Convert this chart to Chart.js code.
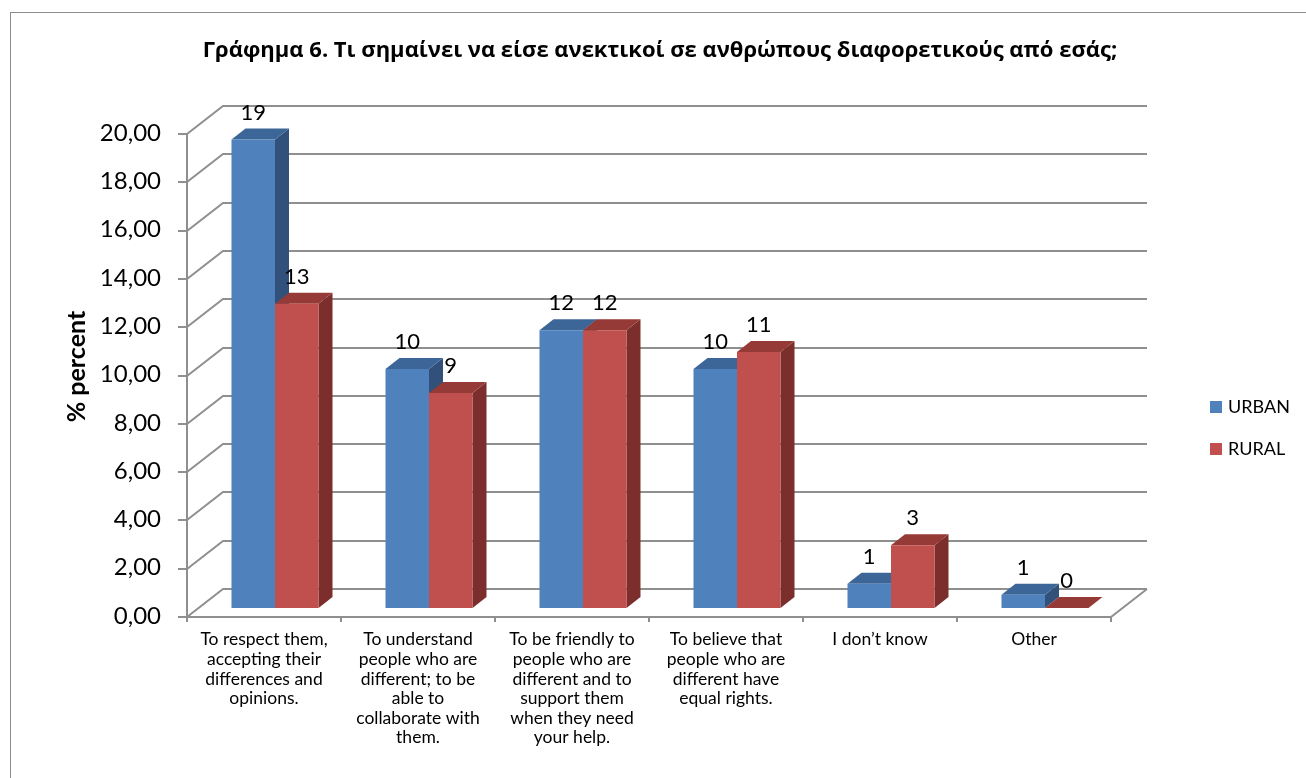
<!DOCTYPE html>
<html lang="el">
<head>
    <meta charset="UTF-8">
    <title>Γράφημα 6</title>
    <style>
        body {
            margin: 0;
            background: #fff;
            overflow: hidden;
        }

        /* grey frame around the chart, like the Excel chart area */
        .frame {
            position: absolute;
            left: 10px;
            top: 12px;
            width: 1400px;
            height: 900px;
            border: 1px solid #8c8c8c;
        }

        #wrap {
            position: absolute;
            left: 0;
            top: 0;
            width: 1306px;
            height: 778px;
        }
    </style>
    <script src="https://cdn.jsdelivr.net/npm/chart.js"></script>
</head>
<body>
    <div class="frame"></div>
    <div id="wrap"><canvas id="toleranceChart"></canvas></div>

    <script>
        const categories = [
            ["To respect them,", "accepting their", "differences and", "opinions."],
            ["To understand", "people who are", "different; to be", "able to", "collaborate with", "them."],
            ["To be friendly to", "people who are", "different and to", "support them", "when they need", "your help."],
            ["To believe that", "people who are", "different have", "equal rights."],
            "I don’t know",
            "Other"
        ];
        const urban = [19.4, 9.9, 11.5, 9.9, 1.0, 0.55];
        const rural = [12.6, 8.9, 11.5, 10.6, 2.6, 0];
        const yMin = 0;
        const yMax = 20;
        const yStep = 2;

        const FONT = "Lato, 'Open Sans', sans-serif";
        const TITLE_FONT = "'Open Sans', Lato, sans-serif";

        // fake 3D: offsets from the bar plane (the one Chart.js draws in)
        const FRONT = { x: -11, y: 9 };   // front edge of floor / axis
        const BACK = { x: 25, y: -19 };   // back wall
        const DEPTH = { x: 14, y: -11 };  // depth of one bar
        const GRID = '#8f8f8f';

        const faceColors = [
            { top: '#3d6698', side: '#31507a' },
            { top: '#963a37', side: '#7b2e2c' }
        ];

        const fmt = v => v.toFixed(2).replace('.', ',');

        const threeD = {
            id: 'threeD',
            beforeDatasetsDraw(chart) {
                const { ctx, chartArea: a, scales: { x, y } } = chart;
                const y0 = Math.round(y.getPixelForValue(yMin));
                const yTop = Math.round(y.getPixelForValue(yMax));
                ctx.save();
                ctx.strokeStyle = GRID;
                ctx.lineWidth = 2;

                // left wall diagonals + back wall gridlines + tick marks
                y.ticks.forEach(t => {
                    const py = Math.round(y.getPixelForValue(t.value));
                    ctx.beginPath();
                    ctx.moveTo(a.left + FRONT.x, py + FRONT.y);
                    ctx.lineTo(a.left + BACK.x, py + BACK.y);
                    ctx.lineTo(a.right + BACK.x, py + BACK.y);
                    ctx.stroke();
                    ctx.beginPath();
                    ctx.moveTo(a.left + FRONT.x - 9, py + FRONT.y);
                    ctx.lineTo(a.left + FRONT.x, py + FRONT.y);
                    ctx.stroke();
                });

                // front vertical axis
                ctx.beginPath();
                ctx.moveTo(a.left + FRONT.x, y0 + FRONT.y);
                ctx.lineTo(a.left + FRONT.x, yTop + FRONT.y);
                ctx.stroke();

                // floor front and right edge
                ctx.beginPath();
                ctx.moveTo(a.left + FRONT.x, y0 + FRONT.y);
                ctx.lineTo(a.right + FRONT.x, y0 + FRONT.y);
                ctx.lineTo(a.right + BACK.x, y0 + BACK.y);
                ctx.stroke();

                // category separators on the floor edge
                const n = categories.length;
                for (let k = 0; k <= n; k++) {
                    const px = Math.round(a.left + k * a.width / n + FRONT.x);
                    ctx.beginPath();
                    ctx.moveTo(px, y0 + FRONT.y);
                    ctx.lineTo(px, y0 + FRONT.y + 5);
                    ctx.stroke();
                }

                // side and top faces of the bars (fronts are drawn by Chart.js after this)
                chart.data.datasets.forEach((ds, d) => {
                    const meta = chart.getDatasetMeta(d);
                    meta.data.forEach(bar => {
                        const l = bar.x - bar.width / 2;
                        const r = bar.x + bar.width / 2;
                        const t = bar.y;
                        const b = bar.base;

                        ctx.fillStyle = faceColors[d].side;
                        ctx.beginPath();
                        ctx.moveTo(r, t);
                        ctx.lineTo(r + DEPTH.x, t + DEPTH.y);
                        ctx.lineTo(r + DEPTH.x, b + DEPTH.y);
                        ctx.lineTo(r, b);
                        ctx.closePath();
                        ctx.fill();

                        ctx.fillStyle = faceColors[d].top;
                        ctx.beginPath();
                        ctx.moveTo(l, t);
                        ctx.lineTo(r, t);
                        ctx.lineTo(r + DEPTH.x, t + DEPTH.y);
                        ctx.lineTo(l + DEPTH.x, t + DEPTH.y);
                        ctx.closePath();
                        ctx.fill();
                    });
                });
                ctx.restore();
            },
            afterDatasetsDraw(chart) {
                const { ctx } = chart;
                ctx.save();
                ctx.fillStyle = '#000';
                ctx.font = '22px ' + FONT;
                ctx.textAlign = 'center';
                ctx.textBaseline = 'middle';
                chart.data.datasets.forEach((ds, d) => {
                    chart.getDatasetMeta(d).data.forEach((bar, i) => {
                        ctx.fillText(String(Math.round(ds.data[i])), bar.x, bar.y - 27);
                    });
                });
                ctx.restore();
            },
            afterDraw(chart) {
                // legend on the right
                const { ctx } = chart;
                ctx.save();
                ctx.font = '18px ' + FONT;
                ctx.textBaseline = 'middle';
                ctx.textAlign = 'left';
                chart.data.datasets.forEach((ds, d) => {
                    const cy = 407 + d * 42;
                    ctx.fillStyle = ds.backgroundColor;
                    ctx.fillRect(1210, cy - 6, 12, 12);
                    ctx.fillStyle = '#000';
                    ctx.fillText(ds.label, 1228, cy);
                });
                ctx.restore();
            }
        };

        document.addEventListener("DOMContentLoaded", function () {
            const ctx = document.getElementById('toleranceChart').getContext('2d');

            new Chart(ctx, {
                type: 'bar',
                data: {
                    labels: categories,
                    datasets: [
                        {
                            label: 'URBAN',
                            data: urban,
                            backgroundColor: '#4f81bd',
                            categoryPercentage: 0.565,
                            barPercentage: 1.0
                        },
                        {
                            label: 'RURAL',
                            data: rural,
                            backgroundColor: '#c0504d',
                            categoryPercentage: 0.565,
                            barPercentage: 1.0
                        }
                    ]
                },
                options: {
                    responsive: true,
                    maintainAspectRatio: false,
                    animation: false,
                    layout: {
                        padding: { left: 0, right: 184, top: 0, bottom: 0 }
                    },
                    plugins: {
                        legend: { display: false },
                        tooltip: { enabled: false },
                        title: {
                            display: true,
                            fullSize: false,
                            text: 'Γράφημα 6. Τι σημαίνει να είσε ανεκτικοί σε ανθρώπους διαφορετικούς από εσάς;',
                            color: '#000',
                            font: { family: TITLE_FONT, size: 22, weight: 'bold' },
                            padding: { top: 38, bottom: 60.6 }
                        }
                    },
                    scales: {
                        x: {
                            grid: { display: false, drawTicks: false },
                            border: { display: false },
                            ticks: {
                                color: '#000',
                                font: { family: FONT, size: 17.5, lineHeight: 1.12 },
                                padding: 22,
                                labelOffset: -11,
                                maxRotation: 0,
                                autoSkip: false
                            },
                            afterFit(scale) { scale.height = 170; }
                        },
                        y: {
                            min: yMin,
                            max: yMax,
                            grid: { display: false, drawTicks: false },
                            border: { display: false },
                            ticks: {
                                stepSize: yStep,
                                color: '#000',
                                font: { family: FONT, size: 24 },
                                padding: 37,
                                labelOffset: 8,
                                callback: v => fmt(v)
                            },
                            title: {
                                display: true,
                                text: '% percent',
                                color: '#000',
                                font: { family: FONT, size: 25, weight: 'bold' },
                                padding: { top: 62, bottom: 0 }
                            },
                            afterFit(scale) { scale.width = 198; }
                        }
                    }
                },
                plugins: [threeD]
            });
        });
    </script>
</body>
</html>
